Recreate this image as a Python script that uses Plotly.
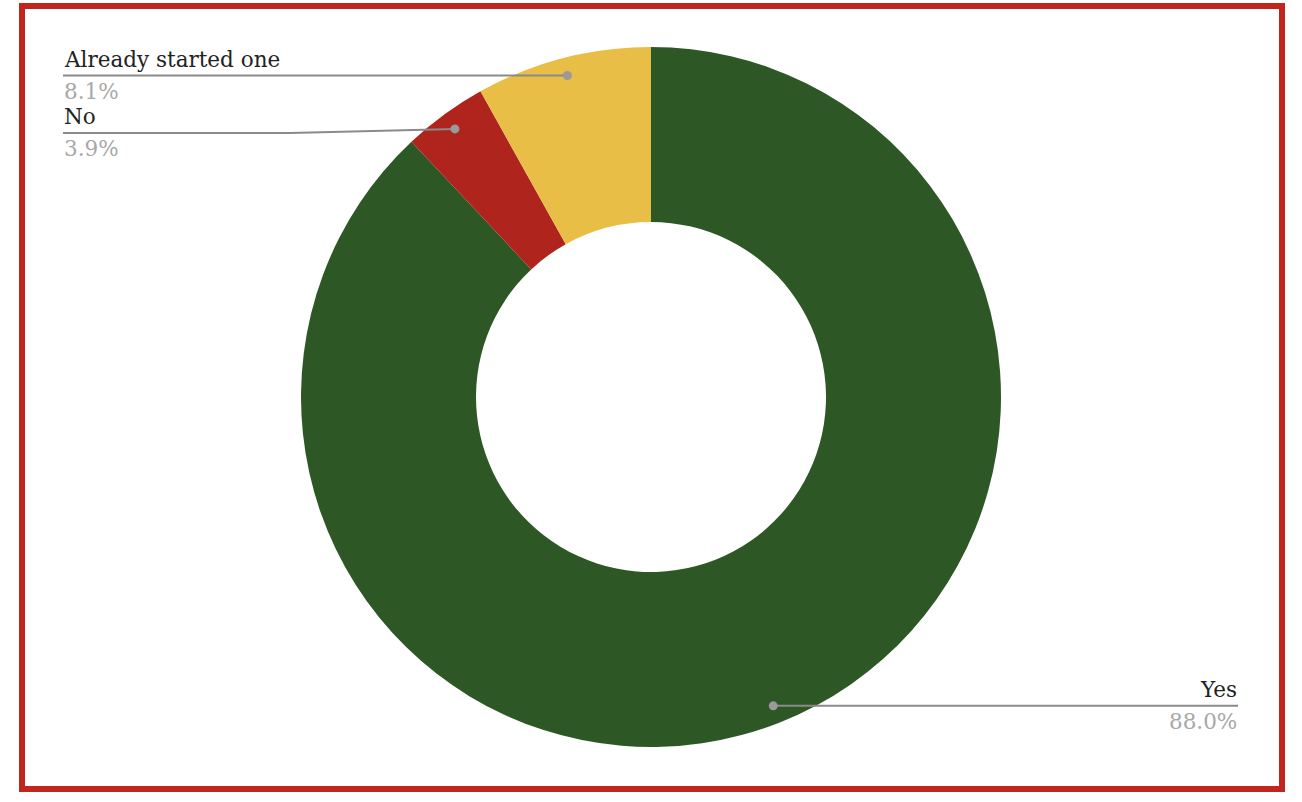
import math
import plotly.graph_objects as go

# chart data
labels = ["Yes", "No", "Already started one"]
values = [88.0, 3.9, 8.1]
pct_labels = ["88.0%", "3.9%", "8.1%"]
colors = ["#2E5726", "#AF241C", "#E9BE47"]

# page geometry (pixels in the browser window)
W, H = 1302, 802
CX, CY, R = 651, 397, 350
HOLE = 0.5
DOT_R = 0.949  # leader dot sits near the outer rim
FONT = "DejaVu Serif"
FONT_SIZE = 21.5


def px(x):
    return x / W


def py(y):
    return 1 - y / H


def dot_position(idx):
    """centre of the leader dot for slice idx (clockwise from 12 o'clock)"""
    total = sum(values)
    start = sum(values[:idx]) / total
    mid = (start + values[idx] / total / 2) * 2 * math.pi
    r = R * DOT_R
    return CX + r * math.sin(mid), CY - r * math.cos(mid)


fig = go.Figure()
fig.add_trace(go.Pie(labels=labels, values=values, hole=HOLE, sort=False,
                     direction="clockwise", rotation=0,
                     marker=dict(colors=colors, line=dict(width=0)),
                     textinfo="none", hoverinfo="label+percent",
                     showlegend=False,
                     domain=dict(x=[px(CX - R), px(CX + R)],
                                 y=[py(CY + R), py(CY - R)])))

shapes = []
annotations = []

# (label x end, label y, side) for each slice
label_spots = {
    "Yes": (1238, None, "right"),
    "No": (63, 133, "left"),
    "Already started one": (63, None, "left"),
}

for i, name in enumerate(labels):
    dx, dy = dot_position(i)
    end_x, line_y, side = label_spots[name]
    if line_y is None:
        line_y = dy
    if side == "left":
        bend_x = dx - 165 if line_y != dy else end_x
        path = "M {} {} L {} {} L {} {}".format(px(dx), py(dy), px(bend_x), py(line_y),
                                               px(end_x), py(line_y))
    else:
        path = "M {} {} L {} {}".format(px(dx), py(dy), px(end_x), py(line_y))
    shapes.append(dict(type="path", xref="paper", yref="paper", path=path,
                       line=dict(color="#8a8a8a", width=2), layer="above"))
    shapes.append(dict(type="circle", xref="paper", yref="paper",
                       x0=px(dx - 4.5), x1=px(dx + 4.5), y0=py(dy + 4.5), y1=py(dy - 4.5),
                       fillcolor="#9a9a9a", line=dict(width=0), layer="above"))
    anchor = "left" if side == "left" else "right"
    annotations.append(dict(xref="paper", yref="paper", x=px(end_x), y=py(line_y - 3),
                            xanchor=anchor, yanchor="bottom", showarrow=False,
                            text=name, borderpad=0,
                            font=dict(family=FONT, size=FONT_SIZE, color="#222222")))
    annotations.append(dict(xref="paper", yref="paper", x=px(end_x), y=py(line_y + 2),
                            xanchor=anchor, yanchor="top", showarrow=False,
                            text=pct_labels[i], borderpad=0,
                            font=dict(family=FONT, size=FONT_SIZE, color="#a8a8a8")))

# red frame round the chart
shapes.append(dict(type="rect", xref="paper", yref="paper",
                   x0=px(22), x1=px(1282), y0=py(789), y1=py(6),
                   line=dict(color="#C0261E", width=6), layer="above"))

fig.update_layout(width=W, height=H, margin=dict(l=0, r=0, t=0, b=0),
                  paper_bgcolor="white", plot_bgcolor="white",
                  shapes=shapes, annotations=annotations)

# drop the page's default body margin so the figure fills the window
fig.write_html("out.html", config={"displayModeBar": False},
               post_script="document.body.style.margin='0';document.body.style.overflow='hidden';")
